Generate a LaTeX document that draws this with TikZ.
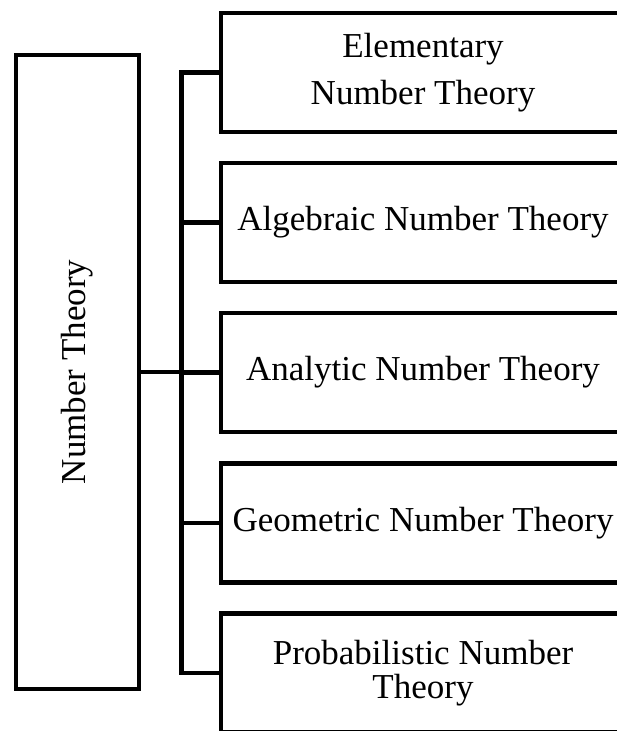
\documentclass[tikz,border=0pt]{standalone}
\usepackage{fontspec}
\setmainfont{Liberation Serif}
\usetikzlibrary{positioning}

\begin{document}
\begin{tikzpicture}[x=1pt, y=-1pt,
    font=\fontsize{35}{34}\selectfont,
    wire/.style={line width=4.5pt},
    rootbox/.style={draw, line width=4.5pt, minimum width=123pt, minimum height=634pt, inner sep=0pt},
    branchbox/.style={draw, line width=4.5pt, minimum width=404pt, minimum height=119pt, align=center, inner sep=0pt}]
  \clip (0,0) rectangle (617,731);

  % root
  \node[rootbox] (root) at (77.5,372) {\rotatebox{90}{Number Theory}};

  % branches
  \node[branchbox] (elem) at (423,72.5)  {Elementary\\[13.6pt]Number Theory};
  \node[branchbox] (alg)  at (423,222.5) {Algebraic Number Theory};
  \node[branchbox] (ana)  at (423,372.5) {Analytic Number Theory};
  \node[branchbox] (geo)  at (423,523)   {Geometric Number Theory};
  \node[branchbox] (prob) at (423,673)   {Probabilistic Number\\Theory};

  % connectors
  \coordinate (spine) at (181.5,372);
  \draw[wire] (elem.west) -- (elem.west -| spine) -- (prob.west -| spine) -- (prob.west);
  \foreach \n in {alg,ana,geo}
    \draw[wire] (\n.west -| spine) -- (\n.west);
  \draw[wire] (root.east) -- (root.east -| spine);
\end{tikzpicture}
\end{document}
